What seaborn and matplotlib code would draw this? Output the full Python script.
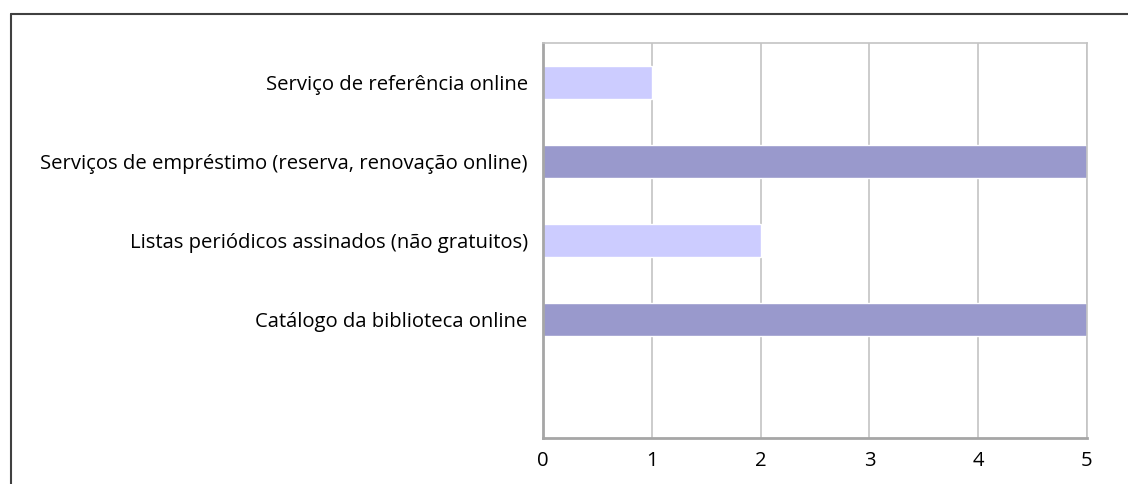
import pandas as pd
import matplotlib
matplotlib.use("Agg")
import matplotlib.pyplot as plt
import seaborn as sns
from matplotlib.lines import Line2D

# Données du graphique
servicos = [
    "Serviço de referência online",
    "Serviços de empréstimo (reserva, renovação online)",
    "Listas periódicos assinados (não gratuitos)",
    "Catálogo da biblioteca online",
]
valores = [1, 5, 2, 5]
cores = ["#CCCCFF", "#9999CC", "#CCCCFF", "#9999CC"]
ordem = servicos + [""]  # dernière case vide comme dans l'original
ticks_x = [0, 1, 2, 3, 4, 5]

data = pd.DataFrame({"servico": servicos, "valor": valores})

sns.set_style("white")
plt.rcParams["font.family"] = ["Open Sans", "DejaVu Sans"]

fig = plt.figure(figsize=(11.28, 4.84), dpi=100)
ax = fig.add_axes([543 / 1128, 1 - 438 / 484, (1087 - 543) / 1128, (438 - 43) / 484])

sns.barplot(data=data, y="servico", x="valor", hue="servico", order=ordem,
            hue_order=servicos, palette=cores, orient="h", width=0.41,
            legend=False, saturation=1, ax=ax)

ax.set_xlim(0, 5)
ax.set_ylim(4.5, -0.5)
ax.set_xticks(ticks_x)
ax.set_xticklabels([str(t) for t in ticks_x])
ax.set_xlabel("")
ax.set_ylabel("")
ax.xaxis.grid(True, color="#C4C4C4", linewidth=1.2)
ax.set_axisbelow(True)
ax.tick_params(axis="both", length=0, labelsize=14.6, colors="black")
ax.tick_params(axis="y", pad=11)
ax.tick_params(axis="x", pad=9)

for nome, spine in ax.spines.items():
    spine.set_visible(True)
    spine.set_color("#C4C4C4")
    spine.set_linewidth(1.2)
ax.spines["left"].set_color("#A6A6A6")
ax.spines["left"].set_linewidth(2)
ax.spines["bottom"].set_color("#A6A6A6")
ax.spines["bottom"].set_linewidth(2)

# Cadre extérieur du graphique
fig.add_artist(Line2D([11 / 1128, 1.0], [1 - 14 / 484, 1 - 14 / 484],
                      color="#404040", linewidth=1.5, transform=fig.transFigure))
fig.add_artist(Line2D([11 / 1128, 11 / 1128], [0, 1 - 14 / 484],
                      color="#404040", linewidth=1.5, transform=fig.transFigure))

fig.savefig("out.png", dpi=100)
